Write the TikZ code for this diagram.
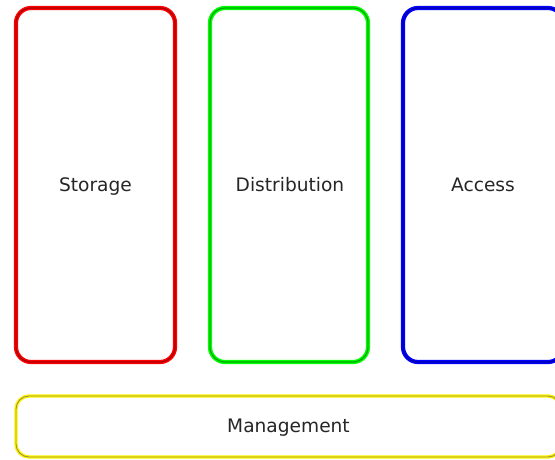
\documentclass[tikz,border=0pt]{standalone}
\usepackage{fontspec}
\setmainfont{DejaVu Sans}
\begin{document}
\begin{tikzpicture}[x=1pt,y=-1pt,
  panel/.style={draw=#1, line width=4.2pt, rounded corners=15pt,
    postaction={draw=#1!65!black, line width=1.2pt}},
  lbl/.style={font=\fontsize{18.6}{22}\selectfont, text=black!85, anchor=base},
]
\useasboundingbox (0,0) rectangle (555,460);
\clip (0,0) rectangle (555,460);
\fill[white] (0,0) rectangle (555,460);
\draw[panel=red] (16,8) rectangle (175,362);
\draw[panel=green] (210,8) rectangle (368,362);
\draw[panel=blue] (403,8) rectangle (563,362);
\draw[draw=yellow, line width=3.4pt, rounded corners=13pt, postaction={draw=yellow!55!black, line width=0.9pt}] (16,396) rectangle (561,457);
\node[lbl] (storage) at (95.5,191) {Storage};
\node[lbl] (distribution) at (290,191) {Distribution};
\node[lbl] (access) at (483,191) {Access};
\node[lbl] (management) at (288.5,432) {Management};
\end{tikzpicture}
\end{document}
